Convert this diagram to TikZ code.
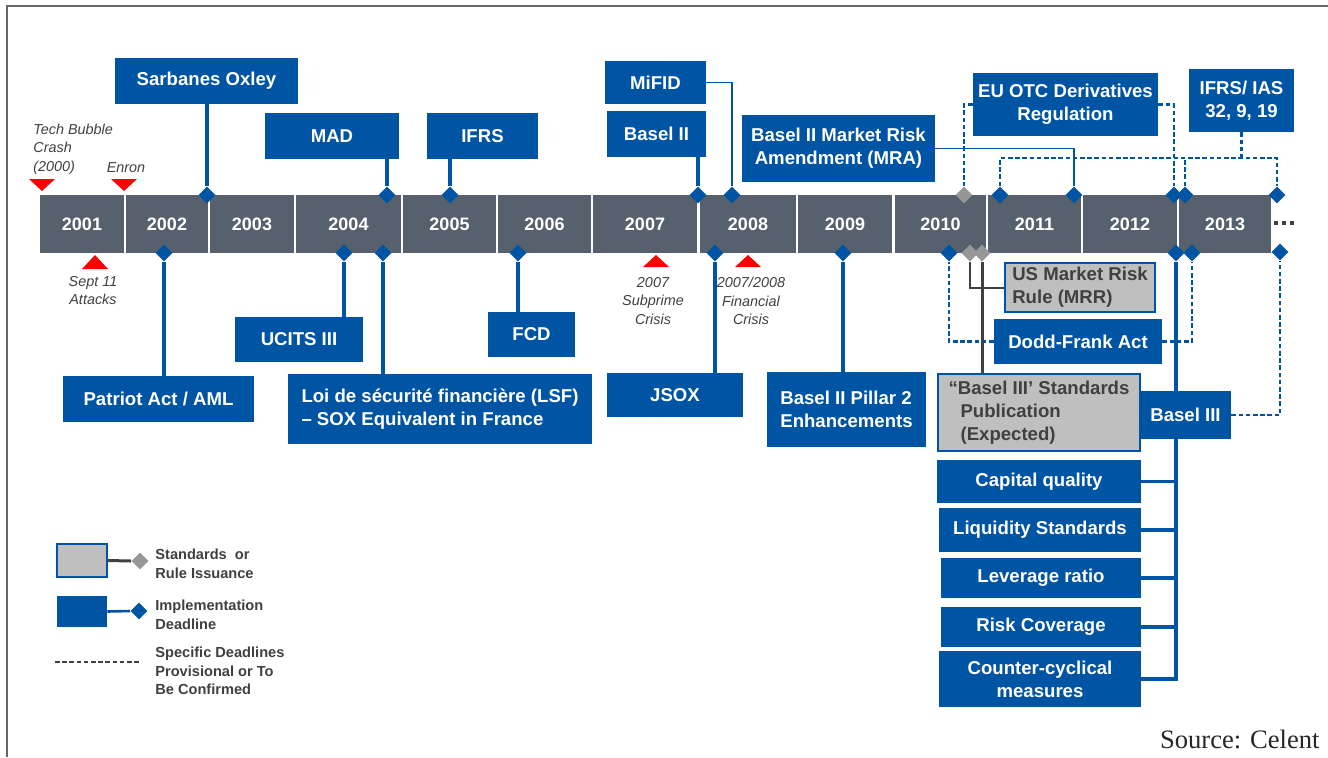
\documentclass[tikz,border=0pt]{standalone}
\usepackage{fontspec}
\setmainfont{Liberation Sans}
\newfontfamily\srcserif{Liberation Serif}
\usepackage{xcolor}
\usepackage{tikz}
\usetikzlibrary{shapes.geometric, backgrounds}

\definecolor{regblue}{RGB}{0,84,164}
\definecolor{bargray}{RGB}{86,97,109}
\definecolor{stdgray}{RGB}{191,191,191}
\definecolor{dmdgray}{RGB}{150,150,150}
\definecolor{inkgray}{RGB}{64,64,64}

\begin{document}
\begin{tikzpicture}[
    x=0.5pt, y=-0.5pt,
    yearcell/.style={rectangle, fill=bargray, text=white, font=\fontsize{9}{11}\selectfont\bfseries, minimum height=29pt, inner sep=0},
    regbox/.style={rectangle, fill=regblue, text=white, font=\fontsize{9.3}{11.5}\selectfont\bfseries, align=center, inner sep=0},
    stdbox/.style={rectangle, fill=stdgray, draw=regblue, line width=1pt, text=inkgray, font=\fontsize{9.3}{11.5}\selectfont\bfseries, align=left, inner sep=0},
    deadline/.style={diamond, fill=regblue, minimum width=8.5pt, minimum height=8.5pt, inner sep=0},
    issuance/.style={deadline, fill=dmdgray},
    conn/.style={regblue, line width=1.6pt},
    thinconn/.style={regblue, line width=0.8pt},
    tbcconn/.style={regblue, line width=1.3pt, dash pattern=on 2.3pt off 1.3pt},
    stdconn/.style={inkgray, line width=1pt},
    event/.style={font=\fontsize{7.2}{9.2}\selectfont\itshape, text=inkgray, inner sep=0},
    evmark/.style={fill=red},
    legtext/.style={font=\fontsize{7.3}{9.3}\selectfont\bfseries, text=inkgray, anchor=west, align=left, inner sep=0},
]
\useasboundingbox (0,0) rectangle (1328,757);

% === FRAME ===
\draw[inkgray!80, line width=0.7pt] (7,757) -- (7,6) -- (1328,6);

% === TIMELINE BAR ===
\foreach \yr/\cx/\w in {2001/82/42, 2002/167/41, 2003/252/42, 2004/348.5/52.5, 2005/449.5/46.5, 2006/544.5/46.5, 2007/645/52, 2008/748/48, 2009/845/47, 2010/940.5/45.5, 2011/1034.5/46.5, 2012/1130/47, 2013/1225/46}
    \node[yearcell, minimum width=\w pt] (y\yr) at (\cx,224) {\yr};
\draw[inkgray, line width=1.7pt, dash pattern=on 1.6pt off 2.4pt] (y2013.east) ++(3,-1) -- ++(20,0);

% === EVENTS ===
\fill[evmark] (29,179) -- (55,179) -- (42,191) -- cycle;
\fill[evmark] (111,179) -- (137,179) -- (124,191) -- cycle;
\fill[evmark] (82,269) -- (108,269) -- (95,255) -- cycle;
\fill[evmark] (643,267) -- (669,267) -- (656,255) -- cycle;
\fill[evmark] (735,267) -- (761,267) -- (748,255) -- cycle;
\node[event, anchor=west, align=left] (techbubble) at (33,149) {Tech Bubble\\Crash\\(2000)};
\node[event] (enron) at (126,168) {Enron};
\node[event, align=center] (sept11) at (93,290.5) {Sept 11\\Attacks};
\node[event, align=center] (subprime) at (653,301) {2007\\Subprime\\Crisis};
\node[event, align=center] (fincrisis) at (751,301) {2007/2008\\Financial\\Crisis};

% === REGULATIONS ABOVE ===
\node[regbox, minimum width=91.5pt, minimum height=23pt] (sox) at (206.5,81) {Sarbanes Oxley};
\node[regbox, minimum width=67pt, minimum height=23pt] (mad) at (332,136) {MAD};
\node[regbox, minimum width=55.5pt, minimum height=23pt] (ifrs) at (482.5,136) {IFRS};
\node[regbox, minimum width=50.5pt, minimum height=21.5pt] (mifid) at (655.5,82.5) {MiFID};
\node[regbox, minimum width=49.5pt, minimum height=23pt] (basel2) at (656.5,134) {Basel II};
\node[regbox, minimum width=96.5pt, minimum height=33.5pt] (mra) at (838.5,148.5) {Basel II Market Risk\\Amendment (MRA)};
\node[regbox, minimum width=92.5pt, minimum height=31.5pt] (euotc) at (1065.5,104.5) {EU OTC Derivatives\\Regulation};
\node[regbox, minimum width=52.5pt, minimum height=31.5pt] (ifrsias) at (1241.5,100.5) {IFRS/ IAS\\32, 9, 19};

% === REGULATIONS BELOW ===
\node[regbox, minimum width=95.5pt, minimum height=23pt] (patriot) at (158.5,399) {Patriot Act / AML};
\node[regbox, minimum width=64pt, minimum height=22.5pt] (ucits) at (299,339.5) {UCITS III};
\node[regbox, align=left, minimum width=152pt, minimum height=35pt] (lsf) at (440,409) {Loi de sécurité financière (LSF)\\– SOX Equivalent in France};
\node[regbox, minimum width=43.5pt, minimum height=22.5pt] (fcd) at (531.5,334.5) {FCD};
\node[regbox, minimum width=68pt, minimum height=22pt] (jsox) at (675,395) {JSOX};
\node[regbox, align=left, minimum width=79.5pt, minimum height=37.5pt] (pillar2) at (846.5,409.5) {Basel II Pillar 2\\Enhancements};
\node[stdbox, minimum width=75pt, minimum height=24.5pt] (mrr) at (1080,287.5) {US Market Risk\\Rule (MRR)};
\node[regbox, minimum width=84pt, minimum height=22.5pt] (dodd) at (1078,341.5) {Dodd-Frank Act};
\node[regbox, minimum width=45.5pt, minimum height=24pt] (basel3) at (1185.5,415) {Basel III};
\node[stdbox, minimum width=101pt, minimum height=38.5pt] (b3std) at (1039,412.5) {“Basel III’ Standards\\\hspace*{6pt}Publication\\\hspace*{6pt}(Expected)};

% Basel III components
\node[regbox, minimum width=102pt, minimum height=21.5pt] (capq) at (1039,481.5) {Capital quality};
\node[regbox, minimum width=101pt, minimum height=22pt] (liq) at (1040,530) {Liquidity Standards};
\node[regbox, minimum width=100pt, minimum height=20pt] (lev) at (1041,578) {Leverage ratio};
\node[regbox, minimum width=100pt, minimum height=20pt] (riskc) at (1041,627) {Risk Coverage};
\node[regbox, minimum width=101pt, minimum height=28pt] (ccyc) at (1040,679) {Counter-cyclical\\measures};

% === DIAMONDS ===
% top of bar
\node[deadline] (dsox) at (207,195) {};
\node[deadline] (dmad) at (387,195) {};
\node[deadline] (difrs) at (450,195) {};
\node[deadline] (dbasel2) at (698,195) {};
\node[deadline] (dmifid) at (732,195) {};
\node[issuance] (deu1) at (964,195) {};
\node[deadline] (dias1) at (1000,195) {};
\node[deadline] (dmra) at (1074,195) {};
\node[deadline] (deu2) at (1174,195) {};
\node[deadline] (dias2) at (1185,195) {};
\node[deadline] (dias3) at (1277,195) {};
% bottom of bar
\node[deadline] (dpatriot) at (164,253) {};
\node[deadline] (ducits) at (344,253) {};
\node[deadline] (dlsf) at (383,253) {};
\node[deadline] (dfcd) at (518,253) {};
\node[deadline] (djsox) at (715,253) {};
\node[deadline] (dpillar) at (843,253) {};
\node[deadline] (ddodd1) at (949,253) {};
\node[issuance] (dmrr) at (970,253) {};
\node[issuance] (db3std) at (982,253) {};
\node[deadline] (dbasel3) at (1176,253) {};
\node[deadline] (ddodd2) at (1192,253) {};
\node[deadline] (dbasel3r) at (1280,252) {};

% === CONNECTORS ===
\begin{scope}[on background layer]
% above
\draw[conn] (dsox) -- (dsox |- sox.south);
\draw[conn] (dmad) -- (dmad |- mad.south);
\draw[conn] (difrs) -- (difrs |- ifrs.south);
\draw[conn] (dbasel2) -- (dbasel2 |- basel2.south);
\draw[thinconn] (mifid.east) -| (dmifid);
\draw[thinconn] (mra.east) -| (dmra);
\draw[tbcconn] (euotc.west) -| (deu1);
\draw[tbcconn] (euotc.east) -| (deu2);
\coordinate (iasjoin) at (1241.5,158);
\draw[tbcconn] (ifrsias.south) -- (iasjoin);
\draw[tbcconn] (dias1) |- (iasjoin) -| (dias3);
\draw[tbcconn] (dias2) -- (dias2 |- iasjoin);
% below
\draw[conn] (dpatriot) -- (dpatriot |- patriot.north);
\draw[conn] (ducits) -- (ducits |- ucits.north);
\draw[conn] (dlsf) -- (dlsf |- lsf.north);
\draw[conn] (dfcd) -- (dfcd |- fcd.north);
\draw[conn] (djsox) -- (djsox |- jsox.north);
\draw[conn] (dpillar) -- (dpillar |- pillar2.north);
\draw[tbcconn] (dodd.west) -| (ddodd1);
\draw[tbcconn] (dodd.east) -| (ddodd2);
\draw[stdconn] (dmrr) |- (mrr.west);
\draw[stdconn, line width=1.5pt] (db3std) -- (db3std |- b3std.north);
\draw[conn] (dbasel3) -- (dbasel3 |- ccyc.east) -- (ccyc.east);
\foreach \sub in {capq, liq, lev, riskc}
    \draw[conn] (\sub.east) -- (\sub.east -| dbasel3);
\draw[tbcconn] (basel3.east) -| (dbasel3r);
\end{scope}

% === LEGEND ===
\node[stdbox, minimum width=25pt, minimum height=16.5pt] (legstd) at (82,560.5) {};
\node[issuance] (legstdd) at (140,561) {};
\draw[stdconn, line width=1.5pt] (legstd.east) -- (legstdd.west);
\node[regbox, minimum width=25pt, minimum height=15.5pt] (legimp) at (82,611.5) {};
\node[deadline] (legimpd) at (139,611) {};
\draw[conn, line width=1.3pt] (legimp.east) -- (legimpd.west);
\coordinate (legtbcA) at (55,662);
\coordinate (legtbcB) at (140,662);
\draw[tbcconn, inkgray] (legtbcA) -- (legtbcB);
\node[legtext] (legstdtxt) at (155,563.5) {Standards\ \ or\\Rule Issuance};
\node[legtext] (legimptxt) at (155,614.5) {Implementation\\Deadline};
\node[legtext] (legtbctxt) at (155,671) {Specific Deadlines\\Provisional or To\\Be Confirmed};

% === SOURCE ===
\node[font=\srcserif\fontsize{13.3}{15}\selectfont, anchor=base east, inner sep=0, text=black!85] (source) at (1320,748) {Source: Celent};

\end{tikzpicture}
\end{document}
